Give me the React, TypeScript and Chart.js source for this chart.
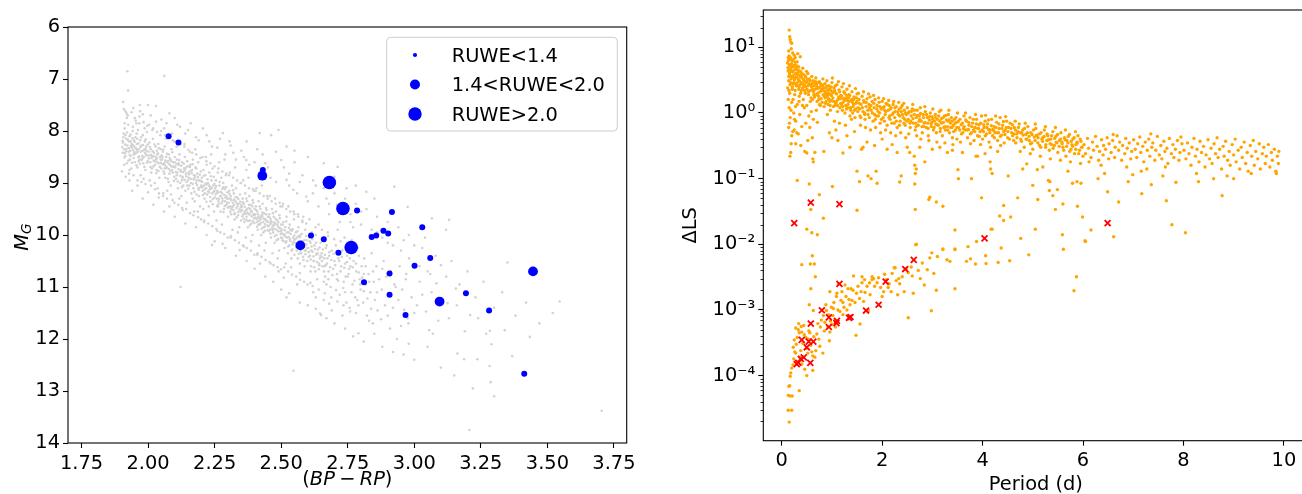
import React, { useEffect, useRef } from 'react';
import { Chart, registerables } from 'chart.js';

Chart.register(...registerables);

type P = [number, number];

const fieldStars: P[] = [
  [1.922,6.85],[2.061,6.94],[1.925,7.22],[1.906,7.44],[1.944,7.56],[1.969,7.5],[2.0,7.5],[2.03,7.52],[1.919,7.66],[1.912,7.85],[1.956,7.85],[2.069,7.85],[2.1,7.75],[2.15,7.98],[2.206,7.95],[2.281,8.04],[2.306,8.2],[2.419,8.04],[2.462,8.08],[2.49,7.98],[2.37,8.2],[2.52,8.3],[2.55,8.38],[2.6,8.5],[2.5,8.56],[2.369,8.56],[2.369,8.75],[2.481,8.98],[2.52,8.94],[2.546,9.13],[2.594,9.26],[2.619,9.2],[2.712,8.69],[2.746,9.1],[2.82,9.17],[2.925,9.07],[2.975,9.46],[3.066,9.68],[3.131,9.71],[3.119,9.9],[2.66,8.62],[2.7,8.88],[2.78,9.05],[2.85,9.3],[2.68,9.6],[2.72,9.75],[2.77,9.85],[2.8,9.55],[2.86,9.95],[2.9,10.15],[2.95,10.3],[2.98,10.0],[3.03,10.25],[2.84,10.05],
  [1.905,8.22],[1.908,8.05],[1.91,8.35],[1.912,7.95],[1.915,8.48],[1.918,8.15],[1.92,8.62],[1.922,8.28],[1.925,7.88],[1.927,8.4],[1.93,8.1],[1.932,8.55],[1.935,8.2],[1.937,8.72],[1.94,8.32],[1.942,8.0],[1.945,8.45],[1.947,8.18],[1.95,8.6],[1.905,8.42],[1.91,8.65],[1.915,8.08],[1.92,7.75],[1.928,8.82],[1.933,8.38],[1.938,8.25],[1.943,7.92],[1.948,8.3],
  [1.952,8.12],[1.955,8.42],[1.958,8.25],[1.96,8.7],[1.962,7.98],[1.965,8.35],[1.968,8.55],[1.97,8.18],[1.972,8.85],[1.975,8.28],[1.978,8.48],[1.98,8.08],[1.982,8.62],[1.985,8.36],[1.988,8.2],[1.99,8.75],[1.992,8.45],[1.995,8.02],[1.998,8.58],[1.957,8.05],[1.963,8.5],[1.973,8.4],[1.983,8.92],[1.993,8.3],[1.967,7.85],[1.987,7.95],
  [2.002,8.4],[2.005,8.22],[2.008,8.6],[2.01,8.35],[2.012,8.8],[2.015,8.5],[2.018,8.15],[2.02,8.68],[2.022,8.42],[2.025,9.0],[2.028,8.3],[2.03,8.55],[2.032,8.75],[2.035,8.45],[2.038,8.25],[2.04,8.62],[2.042,8.9],[2.045,8.5],[2.048,8.35],[2.05,8.72],[2.006,8.95],[2.016,7.98],[2.026,8.65],[2.036,9.1],[2.046,8.08],[2.013,8.52],[2.033,8.38],
  [2.052,8.55],[2.055,8.4],[2.058,8.78],[2.06,8.62],[2.062,8.3],[2.065,8.9],[2.068,8.5],[2.07,8.7],[2.072,9.15],[2.075,8.58],[2.078,8.45],[2.08,8.82],[2.082,8.65],[2.085,9.05],[2.088,8.35],[2.09,8.75],[2.092,9.33],[2.095,8.6],[2.098,8.88],[2.1,8.5],[2.057,9.2],[2.067,8.15],[2.077,8.98],[2.087,8.68],[2.097,8.2],[2.063,8.72],
  [2.102,8.7],[2.105,8.92],[2.108,8.55],[2.11,8.8],[2.112,9.1],[2.115,8.65],[2.118,8.45],[2.12,9.0],[2.122,8.75],[2.125,9.25],[2.128,8.6],[2.13,8.88],[2.132,9.05],[2.135,8.72],[2.138,8.5],[2.14,9.15],[2.142,8.82],[2.145,9.38],[2.148,8.68],[2.15,8.95],[2.107,8.3],[2.117,9.3],[2.127,8.95],[2.137,8.25],[2.147,9.05],[2.122,11.0],
  [2.152,8.8],[2.155,9.05],[2.158,8.65],[2.16,8.92],[2.162,9.2],[2.165,8.75],[2.168,8.55],[2.17,9.1],[2.172,8.85],[2.175,9.35],[2.178,8.7],[2.18,9.0],[2.182,9.22],[2.185,8.82],[2.188,8.6],[2.19,9.13],[2.192,8.95],[2.195,9.45],[2.198,8.78],[2.2,9.05],[2.157,8.4],[2.167,9.3],[2.177,8.35],[2.187,9.55],
  [2.202,8.9],[2.205,9.15],[2.208,8.75],[2.21,9.05],[2.212,9.3],[2.215,8.85],[2.218,9.1],[2.22,8.65],[2.222,9.22],[2.225,9.0],[2.228,9.45],[2.23,8.8],[2.232,9.12],[2.235,9.35],[2.238,8.95],[2.24,9.2],[2.242,8.72],[2.245,9.05],[2.248,9.55],[2.25,9.28],[2.207,9.5],[2.217,8.5],[2.227,9.62],[2.237,8.45],[2.247,8.88],[2.24,10.19],
  [2.252,9.1],[2.255,8.95],[2.258,9.3],[2.26,9.15],[2.262,8.8],[2.265,9.4],[2.268,9.05],[2.27,9.25],[2.272,9.55],[2.275,8.9],[2.278,9.2],[2.28,9.35],[2.282,9.0],[2.285,9.5],[2.288,9.12],[2.29,9.28],[2.292,8.85],[2.295,9.42],[2.298,9.18],[2.3,9.65],[2.257,9.72],[2.267,8.6],[2.277,9.8],[2.287,8.55],[2.297,9.38],[2.28,10.17],[2.263,9.45],[2.283,9.08],
  [2.302,9.3],[2.305,9.15],[2.308,9.45],[2.31,9.25],[2.312,9.6],[2.315,9.05],[2.318,9.38],[2.32,9.52],[2.322,9.2],[2.325,9.7],[2.328,9.35],[2.33,9.1],[2.332,9.48],[2.335,9.28],[2.338,9.62],[2.34,9.4],[2.342,9.85],[2.345,9.22],[2.348,9.55],[2.35,9.42],[2.307,8.8],[2.317,9.9],[2.327,8.7],[2.337,9.95],[2.347,9.0],[2.344,10.29],[2.323,9.32],[2.313,9.5],
  [2.352,9.45],[2.355,9.3],[2.358,9.6],[2.36,9.4],[2.362,9.75],[2.365,9.2],[2.368,9.52],[2.37,9.65],[2.372,9.35],[2.375,9.85],[2.378,9.48],[2.38,9.25],[2.382,9.6],[2.385,9.42],[2.388,9.78],[2.39,9.55],[2.392,10.0],[2.395,9.38],[2.398,9.68],[2.4,9.5],[2.357,8.95],[2.367,10.05],[2.377,8.9],[2.387,10.12],[2.397,9.15],[2.362,9.58],[2.382,9.72],[2.372,9.5],[2.392,9.45],
  [2.402,9.6],[2.405,9.45],[2.408,9.75],[2.41,9.55],[2.412,9.9],[2.415,9.35],[2.418,9.68],[2.42,9.8],[2.422,9.5],[2.425,10.0],[2.428,9.62],[2.43,9.4],[2.432,9.75],[2.435,9.58],[2.438,9.92],[2.44,9.7],[2.442,10.15],[2.445,9.52],[2.448,9.82],[2.45,9.65],[2.407,9.1],[2.417,10.2],[2.42,10.55],[2.427,9.05],[2.437,10.3],[2.447,9.25],[2.413,9.65],[2.433,9.85],[2.423,9.7],[2.443,9.6],
  [2.452,9.75],[2.455,9.6],[2.458,9.9],[2.46,9.7],[2.462,10.05],[2.465,9.5],[2.468,9.82],[2.47,9.95],[2.472,9.65],[2.475,10.15],[2.478,9.78],[2.48,9.55],[2.482,9.9],[2.485,9.72],[2.488,10.08],[2.49,9.85],[2.492,10.3],[2.495,9.68],[2.498,9.98],[2.5,9.8],[2.457,9.25],[2.467,10.35],[2.477,9.3],[2.487,10.45],[2.49,10.7],[2.497,9.45],[2.473,9.88],[2.463,9.76],
  [2.502,9.9],[2.505,10.1],[2.508,9.75],[2.51,10.0],[2.512,10.25],[2.515,9.85],[2.518,10.15],[2.52,9.65],[2.522,10.05],[2.525,10.35],[2.528,9.95],[2.53,10.2],[2.532,9.8],[2.535,10.12],[2.538,10.45],[2.54,9.92],[2.542,10.28],[2.545,10.05],[2.548,9.7],[2.55,10.38],[2.507,9.4],[2.517,10.55],[2.52,11.2],[2.527,9.45],[2.537,10.62],[2.547,9.55],[2.546,12.61],
  [2.552,10.15],[2.555,9.95],[2.558,10.3],[2.56,10.05],[2.562,10.45],[2.565,9.85],[2.568,10.22],[2.57,10.55],[2.572,10.0],[2.575,10.35],[2.578,10.12],[2.58,9.75],[2.582,10.42],[2.585,10.2],[2.588,10.6],[2.59,9.9],[2.592,10.3],[2.595,10.1],[2.57,10.73],[2.598,10.5],[2.563,9.6],[2.583,9.65],
  [2.602,10.25],[2.605,10.05],[2.608,10.4],[2.61,10.15],[2.612,10.6],[2.615,9.95],[2.618,10.32],[2.62,11.1],[2.622,10.5],[2.625,10.2],[2.628,10.7],[2.63,10.0],[2.632,10.38],[2.635,10.85],[2.638,10.28],[2.64,9.8],[2.642,10.55],[2.645,10.45],[2.646,11.51],[2.65,11.54],[2.648,10.15],
  [2.652,10.35],[2.655,10.6],[2.658,10.1],[2.66,11.25],[2.662,10.45],[2.665,10.8],[2.668,10.25],[2.67,10.95],[2.672,10.55],[2.675,9.95],[2.678,10.7],[2.68,10.4],[2.685,11.0],[2.69,10.3],[2.695,10.65],[2.7,10.5],[2.706,11.06],
  [2.705,10.2],[2.71,10.75],[2.715,10.45],[2.72,11.15],[2.725,10.6],[2.73,10.3],[2.735,10.9],[2.74,10.55],[2.745,11.3],[2.748,10.4],[2.712,9.9],[2.738,10.05],[2.75,10.8],
  [2.755,10.65],[2.759,11.47],[2.762,10.35],[2.768,10.95],[2.772,10.5],[2.778,11.2],[2.782,10.7],[2.788,10.25],[2.79,11.89],[2.795,10.85],[2.798,11.05],[2.765,10.1],
  [2.802,10.6],[2.808,11.3],[2.812,10.45],[2.818,10.95],[2.822,11.55],[2.828,10.75],[2.835,11.1],[2.84,10.35],[2.844,11.7],[2.848,10.9],
  [2.852,11.25],[2.858,10.6],[2.862,11.45],[2.868,10.85],[2.875,11.62],[2.878,11.05],[2.885,10.5],[2.89,11.35],[2.895,10.8],
  [2.905,11.15],[2.909,11.8],[2.912,10.7],[2.92,11.4],[2.925,10.95],[2.935,12.0],[2.94,11.25],[2.945,10.6],
  [2.955,11.05],[2.962,11.44],[2.968,10.85],[2.975,11.6],[2.978,11.7],[2.979,12.09],[2.99,11.2],
  [3.01,11.35],[3.02,10.9],[3.044,11.47],[3.056,11.83],[3.065,11.1],[3.083,10.93],[3.1,10.58],[3.09,11.65],
  [3.125,11.31],[3.156,11.03],[3.162,12.28],[3.187,12.39],[3.21,11.54],[3.237,12.39],[3.27,11.9],[3.284,11.84],[3.283,12.52],[3.287,12.83],[3.34,11.83],[3.35,10.53],
  [3.368,12.33],[3.434,11.96],[3.546,11.28],[3.704,13.38],[3.207,13.75],
  [1.903,8.31],[1.907,8.12],[1.911,8.51],[1.914,8.26],[1.917,8.39],[1.921,8.03],[1.924,8.17],[1.926,8.57],[1.929,8.33],[1.931,8.46],[1.934,8.07],[1.936,8.29],[1.939,8.61],[1.941,8.14],[1.944,8.37],[1.946,8.52],[1.949,8.21],[1.951,8.44],[1.954,8.33],[1.956,8.66],[1.959,8.15],[1.961,8.4],[1.964,8.24],[1.966,8.49],[1.969,8.63],[1.971,8.31],[1.974,8.12],[1.976,8.56],[1.979,8.38],[1.981,8.27],[1.984,8.5],[1.986,8.69],[1.989,8.34],[1.991,8.16],[1.994,8.47],[1.996,8.61],[1.999,8.26],
  [2.003,8.53],[2.007,8.31],[2.011,8.46],[2.014,8.72],[2.017,8.39],[2.021,8.57],[2.024,8.26],[2.027,8.49],[2.031,8.81],[2.034,8.6],[2.037,8.43],[2.041,8.33],[2.044,8.69],[2.047,8.55],[2.051,8.47],[2.054,8.64],[2.057,8.36],[2.061,8.82],[2.064,8.57],[2.067,8.71],[2.071,8.44],[2.074,8.92],[2.077,8.63],[2.081,8.52],[2.084,8.77],[2.087,8.58],[2.091,8.41],[2.094,8.69],[2.097,8.96],[2.101,8.6],
  [2.104,8.79],[2.107,8.64],[2.111,8.97],[2.114,8.73],[2.117,8.56],[2.121,8.86],[2.124,8.67],[2.127,9.08],[2.131,8.79],[2.134,8.63],[2.137,8.94],[2.141,8.71],[2.144,8.87],[2.147,8.58],[2.151,9.11],[2.154,8.83],[2.157,8.69],[2.161,9.0],[2.164,8.81],[2.167,8.64],[2.171,8.93],[2.174,9.17],[2.177,8.86],[2.181,8.72],[2.184,9.04],[2.187,8.89],[2.191,9.25],[2.194,8.84],[2.197,9.08],
  [2.203,8.98],[2.206,9.23],[2.209,8.86],[2.213,9.12],[2.216,9.01],[2.219,9.36],[2.223,8.93],[2.226,9.16],[2.229,9.05],[2.233,9.27],[2.236,8.87],[2.239,9.1],[2.243,9.41],[2.246,9.17],[2.249,9.02],
  [2.253,9.22],[2.256,9.06],[2.259,9.44],[2.263,9.18],[2.266,9.31],[2.269,8.98],[2.273,9.26],[2.276,9.39],[2.279,9.11],[2.283,9.56],[2.286,9.23],[2.289,9.35],[2.293,9.08],[2.296,9.3],[2.299,9.47],
  [2.303,9.38],[2.306,9.21],[2.309,9.55],[2.313,9.33],[2.316,9.46],[2.319,9.14],[2.323,9.42],[2.326,9.58],[2.329,9.27],[2.333,9.66],[2.336,9.44],[2.339,9.31],[2.343,9.51],[2.346,9.36],[2.349,9.72],
  [2.353,9.52],[2.356,9.37],[2.359,9.69],[2.363,9.46],[2.366,9.59],[2.369,9.3],[2.373,9.57],[2.376,9.73],[2.379,9.42],[2.383,9.81],[2.386,9.55],[2.389,9.64],[2.393,9.33],[2.396,9.6],[2.399,9.77],
  [2.403,9.67],[2.406,9.52],[2.409,9.84],[2.413,9.6],[2.416,9.73],[2.419,9.45],[2.423,9.64],[2.426,9.88],[2.429,9.57],[2.433,9.95],[2.436,9.69],[2.439,9.79],[2.443,9.48],[2.446,9.74],[2.449,9.91],
  [2.453,9.83],[2.456,9.66],[2.459,9.97],[2.463,9.74],[2.466,9.87],[2.469,9.58],[2.473,9.76],[2.476,10.02],[2.479,9.69],[2.483,10.1],[2.486,9.81],[2.489,9.93],[2.493,9.62],[2.496,9.87],[2.499,10.05],
  [2.503,9.97],[2.506,9.8],[2.509,10.12],[2.513,9.91],[2.516,10.03],[2.519,9.74],[2.523,9.95],[2.526,10.22],[2.529,9.86],[2.533,10.08],[2.536,9.98],[2.539,10.3],[2.543,9.89],[2.546,10.14],[2.549,10.01],
  [2.553,10.08],[2.557,10.24],[2.561,9.93],[2.564,10.16],[2.567,10.36],[2.571,10.04],[2.574,10.27],[2.577,9.98],[2.581,10.19],[2.584,10.48],[2.587,10.1],[2.591,10.37],[2.594,10.02],[2.597,10.25],
  [2.603,10.33],[2.607,10.12],[2.611,10.47],[2.614,10.22],[2.617,10.08],[2.621,10.41],[2.624,10.62],[2.627,10.27],[2.631,10.15],[2.634,10.52],[2.637,10.35],[2.641,10.66],[2.644,10.24],[2.647,10.4],
  [2.653,10.5],[2.657,10.28],[2.661,10.7],[2.664,10.38],[2.667,10.58],[2.671,10.2],[2.674,10.45],[2.677,10.85],[2.681,10.33],[2.684,10.62],[2.688,10.48],[2.692,10.77],[2.697,10.36],
  [2.703,10.58],[2.708,10.32],[2.714,10.88],[2.718,10.5],[2.723,10.7],[2.728,10.42],[2.733,11.02],[2.737,10.63],[2.742,10.8],[2.747,10.52],
  [2.753,10.75],[2.758,10.45],[2.764,11.1],[2.769,10.62],[2.775,10.88],[2.781,10.55],[2.786,11.25],[2.792,10.72],[2.797,10.95],
  [2.804,10.82],[2.81,11.08],[2.817,10.6],[2.824,11.22],[2.831,10.9],[2.838,11.42],[2.845,10.7],
  [1.915,7.62],[1.95,7.75],[1.98,7.68],[2.03,7.82],[2.06,7.95],[2.09,8.05],[2.12,7.92],[2.18,8.12],[2.23,8.2],[2.26,8.32],[2.32,8.42],[2.35,8.38],[2.4,8.6],[2.43,8.45],[2.45,8.7],[2.53,8.82],[2.57,8.98],[2.63,9.05],[2.67,9.3],[2.71,9.42],[2.76,9.6],
  [1.93,8.95],[1.96,9.05],[2.0,9.18],[2.04,9.28],[2.08,9.45],[2.13,9.52],[2.17,9.62],[2.21,9.75],[2.26,9.92],[2.31,10.05],[2.36,10.22],[2.41,10.38],[2.46,10.55],[2.51,10.82],[2.56,10.95],[2.61,10.92],[2.68,11.32],[2.73,11.55],
  [1.902,8.78],[1.909,7.58],[1.916,8.88],[1.923,7.7],[1.93,8.75],[1.938,7.64],[1.945,8.85],[1.953,7.8],[1.96,8.95],[1.968,7.72],[1.975,8.98],[1.983,7.83],[1.99,9.02],[1.997,7.9],
  [2.004,7.88],[2.011,9.05],[2.019,7.95],[2.026,9.12],[2.034,8.02],[2.041,9.2],[2.049,8.0],[2.056,9.25],[2.064,8.08],[2.071,9.3],[2.079,8.12],[2.086,9.22],[2.093,8.18],[2.099,9.38],
  [2.106,8.2],[2.113,9.42],[2.121,8.26],[2.128,9.48],[2.136,8.3],[2.143,9.5],[2.151,8.36],[2.158,9.58],[2.166,8.42],[2.173,9.55],[2.181,8.45],[2.188,9.66],[2.196,8.52],[2.199,9.7],
  [2.204,8.5],[2.211,9.72],[2.219,8.58],[2.226,9.78],[2.234,8.62],[2.241,9.83],[2.249,8.68],[2.256,9.88],[2.264,8.72],[2.271,9.95],[2.279,8.78],[2.286,9.98],[2.294,8.82],[2.299,10.05],
  [2.304,8.85],[2.311,10.02],[2.319,8.9],[2.326,10.1],[2.334,8.95],[2.341,10.15],[2.349,9.0],[2.356,10.2],[2.364,9.05],[2.371,10.25],[2.379,9.1],[2.386,10.3],[2.394,9.12],[2.399,10.38],
  [2.404,9.15],[2.411,10.35],[2.419,9.2],[2.426,10.42],[2.434,9.25],[2.441,10.48],[2.449,9.3],[2.456,10.52],[2.464,9.35],[2.471,10.58],[2.479,9.4],[2.486,10.62],[2.494,9.38],[2.499,10.66],
  [2.504,9.45],[2.511,10.62],[2.519,9.5],[2.526,10.7],[2.534,9.55],[2.541,10.76],[2.549,9.6],[2.556,10.8],[2.564,9.65],[2.571,10.86],[2.579,9.72],[2.586,10.9],[2.594,9.78],[2.599,10.95],
  [2.606,9.7],[2.618,10.98],[2.629,9.85],[2.641,11.05],[2.653,9.9],[2.664,11.12],[2.676,10.02],[2.688,11.2],[2.699,10.08],[2.711,11.28],[2.723,10.12],[2.734,11.35],[2.746,10.25],[2.757,11.4],[2.769,10.3],[2.781,11.5],[2.792,10.4],
  [1.904,8.19],[1.913,8.43],[1.919,8.34],[1.928,8.2],[1.934,8.48],[1.943,8.27],[1.949,8.41],[1.958,8.36],[1.964,8.58],[1.973,8.29],[1.979,8.53],[1.988,8.42],[1.994,8.38],[2.003,8.47],[2.009,8.69],[2.018,8.48],[2.024,8.58],[2.033,8.52],[2.039,8.77],[2.048,8.61],[2.054,8.5],[2.063,8.66],[2.069,8.59],[2.078,8.73],[2.084,8.55],[2.093,8.8],[2.099,8.68],[2.108,8.85],[2.114,8.62],[2.123,8.78],[2.129,8.9],[2.138,8.76],[2.144,8.98],[2.153,8.9],[2.159,8.77],[2.168,9.02],[2.174,8.91],[2.183,8.95],[2.189,9.1],[2.198,8.96],
  [2.204,9.08],[2.213,9.2],[2.219,9.03],[2.228,9.18],[2.234,9.08],[2.243,9.31],[2.249,9.15],[2.258,9.19],[2.264,9.35],[2.273,9.17],[2.279,9.3],[2.288,9.44],[2.294,9.25],[2.303,9.47],[2.309,9.3],[2.318,9.45],[2.324,9.6],[2.333,9.39],[2.339,9.56],[2.348,9.47],[2.354,9.64],[2.363,9.55],[2.369,9.71],[2.378,9.6],[2.384,9.5],[2.393,9.73],[2.399,9.62],
  [2.408,9.69],[2.414,9.8],[2.423,9.77],[2.429,9.66],[2.438,9.84],[2.444,9.72],[2.453,9.92],[2.459,9.79],[2.468,9.9],[2.474,9.81],[2.483,10.0],[2.489,9.76],[2.498,9.93],[2.504,10.06],[2.513,9.98],[2.519,10.12],[2.528,10.04],[2.534,9.9],[2.543,10.18],[2.549,10.09],[2.558,10.2],[2.564,10.02],[2.573,10.3],[2.579,10.15],[2.588,10.3],[2.594,10.18],[2.603,10.42],[2.613,10.3],[2.623,10.5],[2.633,10.36],[2.643,10.58],[2.653,10.42],[2.663,10.6],
  [1.97,7.62],[2.01,7.7],[2.05,7.78],[2.08,7.66],[2.11,7.88],[2.14,8.05],[2.16,7.85],[2.19,8.18],[2.22,8.08],[2.24,8.3],[2.27,8.15],[2.29,8.45],[2.31,8.28],[2.33,8.55],[2.36,8.5],[2.38,8.65],[2.41,8.35],[2.42,8.8],[2.44,8.62],[2.46,8.9],[2.48,8.4],[2.51,8.7],[2.53,9.05],[2.55,8.6],[2.56,9.2],[2.58,8.85],[2.6,9.35],[2.62,8.95],[2.64,9.45],[2.66,9.1],[2.68,9.4],[2.7,9.2],[2.72,9.55],[2.74,9.3],[2.76,9.75],[2.78,9.4],[2.8,9.8],[2.82,9.5],[2.84,9.9],[2.86,9.65],[2.88,10.05],[2.9,9.75],[2.92,10.2],[2.94,9.85],[2.96,10.1],[2.98,10.45],[3.0,10.2],[3.02,10.6],[3.04,10.05],[3.06,10.75],[3.08,10.4],[3.12,10.8],[3.14,10.5],[3.17,10.95],[3.2,10.7],[3.23,11.2],[3.26,10.9],[3.3,11.4],[3.33,11.1],[3.38,11.55],[3.42,11.3],[3.47,11.7],[3.52,11.5],
  [1.94,9.15],[1.98,9.3],[2.02,9.42],[2.06,9.55],[2.1,9.65],[2.14,9.78],[2.18,9.85],[2.22,10.0],[2.25,10.12],[2.29,10.25],[2.33,10.4],[2.37,10.5],[2.4,10.65],[2.44,10.8],[2.47,10.9],[2.5,11.05],[2.53,11.12],[2.57,11.3],[2.6,11.35],[2.63,11.42],[2.67,11.6],[2.7,11.7],[2.74,11.8],[2.77,11.95],[2.81,12.05],[2.85,11.9],[2.88,12.15],[2.92,12.25],[2.96,12.3],[3.0,12.4],[3.05,12.15],[3.1,12.55],[3.15,12.7],[3.22,12.95],[3.3,13.1],
  [2.61,10.7],[2.63,11.2],[2.66,10.9],[2.69,11.45],[2.71,10.85],[2.74,11.1],[2.76,10.6],[2.79,11.35],[2.81,10.75],[2.83,11.65],[2.86,11.1],[2.88,10.65],[2.9,11.55],[2.93,11.0],[2.95,11.75],[2.97,10.75],[3.0,11.5],[3.03,11.15],[3.05,10.7],[3.07,11.9],[3.1,11.25],[3.13,11.6],[3.16,11.35],[3.19,11.85],[3.24,11.6],[3.29,12.1]
];

const ruweLow: P[] = [
  [2.077,8.10],[2.114,8.22],[2.431,8.75],[2.785,9.53],[2.916,9.56],[3.030,9.85],[2.612,10.01],[2.660,10.08],
  [2.715,10.34],[2.840,10.04],[2.857,10.01],[2.884,9.92],[2.902,9.97],[3.060,10.44],[3.001,10.59],[2.907,10.74],
  [2.811,10.91],[2.907,11.15],[3.194,11.12],[3.281,11.45],[2.967,11.54],[3.413,12.67]
];
const ruweMid: P[] = [[2.429,8.86],[2.572,10.20],[3.095,11.28],[3.446,10.70]];
const ruweHigh: P[] = [[2.681,8.99],[2.732,9.49],[2.763,10.24]];

const ruweLabels = ['RUWE<1.4', '1.4<RUWE<2.0', 'RUWE>2.0'];
const colourTicks = [1.75, 2.0, 2.25, 2.5, 2.75, 3.0, 3.25, 3.5, 3.75];
const magTicks = [6, 7, 8, 9, 10, 11, 12, 13, 14];

const allSources: P[] = [
  [0.15,18.3],[0.16,14.5],[0.17,13.2],[0.18,12.0],[0.2,11.5],[0.19,9.5],[0.14,8.8],[0.22,8.2],[0.25,7.6],[0.13,7.0],[0.17,6.6],[0.21,6.2],[0.27,5.9],[0.15,5.5],[0.24,5.2],[0.19,4.9],[0.3,4.6],[0.13,4.4],[0.22,4.2],[0.28,4.0],[0.16,3.8],[0.2,3.6],[0.25,3.4],[0.33,3.3],[0.14,3.1],[0.18,2.9],[0.23,2.75],[0.29,2.6],[0.12,2.4],[0.21,2.3],[0.35,2.5],[0.16,2.0],[0.26,1.9],[0.13,1.6],[0.2,1.45],[0.31,1.35],[0.15,1.2],[0.24,1.0],[0.17,0.85],[0.14,0.6],[0.22,0.52],[0.19,0.34],[0.165,0.22],[0.18,0.25],[0.2,0.45],
  [0.27,7.0],[0.31,6.0],[0.34,5.0],[0.36,4.3],[0.38,3.6],[0.4,3.9],[0.42,4.8],[0.44,3.2],[0.32,8.0],[0.37,7.2],[0.41,2.8],[0.46,2.6],[0.48,3.5],[0.5,3.0],[0.35,1.8],[0.39,2.2],[0.43,1.6],[0.47,2.0],[0.52,4.0],[0.55,3.3],[0.58,2.7],[0.6,3.6],[0.62,2.3],[0.53,2.1],[0.57,1.5],[0.45,1.2],[0.36,0.95],[0.28,0.75],[0.4,0.62],[0.25,0.55],[0.33,0.48],[0.5,1.3],[0.54,0.9],[0.59,1.05],[0.64,1.9],[0.66,2.9],[0.68,3.4],[0.7,2.5],[0.72,2.0],[0.75,3.0],[0.78,2.6],[0.8,2.2],[0.82,3.3],[0.85,1.8],[0.74,1.6],[0.77,1.3],[0.69,1.1],[0.63,0.8],[0.71,0.72],[0.56,0.6],[0.48,0.7],[0.61,0.42],[0.52,0.38],[0.46,0.26],[0.38,0.32],[0.3,0.5],[0.66,0.25],[0.62,0.2],[0.63,0.18],[0.5,0.245],[0.28,0.34],
  [0.115,5.8],[0.125,4.9],[0.135,6.3],[0.142,3.6],[0.148,7.4],[0.155,4.1],[0.162,5.3],[0.168,2.7],[0.175,4.6],[0.182,6.9],[0.188,3.3],[0.195,5.6],[0.205,4.3],[0.212,2.5],[0.218,5.1],[0.228,3.7],[0.235,6.5],[0.242,2.9],[0.248,4.5],[0.255,3.2],[0.262,5.4],[0.268,2.2],[0.275,3.9],[0.282,4.8],[0.288,2.8],[0.295,3.5],[0.305,5.2],[0.312,2.6],[0.318,4.1],[0.325,3.0],[0.335,3.8],[0.342,2.3],[0.348,4.4],[0.355,3.1],[0.365,2.7],[0.372,3.6],[0.378,2.0],[0.385,4.2],[0.395,2.9],[0.405,3.4],[0.415,2.4],[0.425,3.9],[0.435,2.7],[0.445,3.1],[0.455,2.2],[0.465,3.7],[0.475,2.5],[0.485,2.9],[0.495,4.3],[0.505,2.3],[0.515,3.2],[0.525,2.6],[0.535,1.9],[0.545,2.8],[0.565,3.1],[0.575,2.2],[0.585,1.7],[0.595,2.5],[0.145,2.2],[0.225,1.6],[0.275,1.25],[0.345,1.5],[0.415,1.3],[0.185,1.1],[0.255,0.8],[0.155,0.7],
  [0.605,2.8],[0.615,1.6],[0.625,3.1],[0.635,2.1],[0.645,2.6],[0.655,1.75],[0.665,2.3],[0.675,3.0],[0.685,1.9],[0.695,2.7],[0.705,1.5],[0.715,2.35],[0.725,2.9],[0.735,1.8],[0.745,2.45],[0.755,1.35],[0.765,2.1],[0.775,2.8],[0.785,1.65],[0.795,2.3],[0.805,1.45],[0.815,2.65],[0.825,1.9],[0.835,2.4],[0.845,1.25],[0.855,2.15],[0.865,1.7],[0.875,2.0],[0.885,1.5],[0.895,2.55],[0.905,1.8],[0.915,2.2],[0.925,1.35],[0.935,2.0],[0.945,1.6],[0.955,2.35],[0.965,1.3],[0.975,1.9],[0.985,2.5],[0.995,1.55],[1.015,2.05],[1.035,1.5],[1.055,2.2],[1.075,1.4],[1.095,1.95],[1.115,1.3],[1.135,1.75],[1.155,2.1],[1.175,1.4],[1.195,1.8],[1.215,1.25],[1.235,1.65],[1.255,2.0],[1.275,1.3],[1.295,1.85],[1.315,1.2],[1.335,1.5],[1.355,1.85],[1.375,1.1],[1.395,1.6],[1.415,1.0],[1.435,1.35],[1.455,1.7],[1.475,1.15],[1.495,1.5],
  [0.86,2.8],[0.88,2.4],[0.9,3.1],[0.92,1.9],[0.94,2.6],[0.96,1.5],[0.98,2.2],[1.0,2.9],[1.02,1.7],[1.04,2.4],[1.06,1.3],[1.08,2.0],[1.1,2.7],[1.12,1.6],[1.14,2.25],[1.16,1.2],[1.18,1.85],[1.2,2.5],[1.22,1.45],[1.24,2.1],[1.26,1.0],[1.28,1.7],[1.3,2.3],[1.32,1.35],[1.34,1.9],[1.36,0.9],[1.38,1.55],[1.4,2.1],[1.42,1.25],[1.44,1.75],[1.46,0.85],[1.48,1.4],[1.5,1.95],[0.87,1.4],[0.91,0.95],[0.97,1.1],[1.01,3.4],[1.05,0.75],[1.09,1.5],[1.13,3.0],[1.15,0.7],[1.19,1.35],[1.23,2.8],[1.27,0.65],[1.31,1.55],[1.35,2.6],[1.39,0.8],[1.43,1.6],[1.47,2.35],[0.93,1.65],[0.99,1.85],[1.03,1.25],[1.07,2.6],[1.11,1.05],[1.17,1.65],[1.21,1.1],[1.25,1.55],[1.29,1.15],[1.33,1.7],[1.37,1.2],[1.41,1.45],[1.45,1.1],[1.49,1.7],
  [0.84,0.26],[0.95,0.5],[1.0,0.42],[1.08,0.55],[1.22,0.245],[1.36,0.3],[1.12,0.38],[1.3,0.45],[1.45,0.52],[1.59,0.28],
  [1.52,1.2],[1.54,1.6],[1.56,0.9],[1.58,1.35],[1.6,1.8],[1.62,1.05],[1.64,1.45],[1.66,0.8],[1.68,1.25],[1.7,1.65],[1.72,0.95],[1.74,1.35],[1.76,1.75],[1.78,1.1],[1.8,1.5],[1.82,0.75],[1.84,1.2],[1.86,1.6],[1.88,0.9],[1.9,1.3],[1.92,1.05],[1.94,1.45],[1.96,0.7],[1.98,1.15],[2.0,1.5],[2.02,0.85],[2.04,1.25],[2.06,0.95],[2.08,1.4],[2.1,0.65],[2.12,1.1],[2.14,1.3],[2.16,0.8],[2.18,1.2],[2.2,0.95],[2.22,1.35],[2.24,0.7],[2.26,1.05],[2.28,1.25],[2.3,0.6],[2.32,0.95],[2.34,1.15],[2.36,0.75],[2.38,1.05],[2.4,1.3],[2.42,0.85],[2.44,1.1],[2.46,0.65],[2.48,0.95],[2.5,1.2],[1.53,2.0],[1.57,0.65],[1.63,2.1],[1.67,0.6],[1.73,1.95],[1.77,0.55],[1.83,1.85],[1.87,0.6],[1.93,1.7],[1.97,0.5],[2.03,1.65],[2.07,0.55],[2.13,1.55],[2.17,0.5],[2.23,1.5],[2.27,0.45],[2.33,1.45],[2.37,0.5],[2.43,1.4],[2.47,0.42],[1.55,1.15],[1.65,1.0],[1.75,1.2],[1.85,0.95],[1.95,1.0],[2.05,1.1],[2.15,0.9],[2.25,0.85],[2.35,0.9],[2.45,0.8],
  [1.515,1.05],[1.545,1.4],[1.575,0.85],[1.605,1.2],[1.635,1.55],[1.655,0.95],[1.685,1.45],[1.715,1.1],[1.745,0.85],[1.775,1.3],[1.805,1.0],[1.835,1.4],[1.865,0.8],[1.895,1.15],[1.925,0.9],[1.955,1.25],[1.985,0.8],[2.015,1.2],[2.045,0.75],[2.075,1.05],[2.105,1.35],[2.135,0.85],[2.165,1.15],[2.195,0.7],[2.225,1.0],[2.255,1.2],[2.285,0.75],[2.315,1.05],[2.345,0.65],[2.375,1.2],[2.405,0.95],[2.435,0.7],[2.465,1.0],[2.495,0.75],
  [1.72,0.11],[1.78,0.1],[1.88,0.13],[1.9,0.085],[1.55,0.09],[1.5,0.13],[1.62,0.3],[1.7,0.36],[1.85,0.32],[2.0,0.4],[2.2,0.33],[2.35,0.089],[2.38,0.11],[2.1,0.28],[2.3,0.25],[2.5,0.3],
  [2.52,0.8],[2.54,1.05],[2.56,0.6],[2.58,0.9],[2.6,1.15],[2.62,0.7],[2.64,0.95],[2.66,0.55],[2.68,0.85],[2.7,1.1],[2.72,0.65],[2.74,0.9],[2.76,1.2],[2.78,0.75],[2.8,0.5],[2.82,0.95],[2.84,0.7],[2.86,1.05],[2.88,0.6],[2.9,0.85],[2.92,0.45],[2.94,0.78],[2.96,1.0],[2.98,0.62],[3.0,0.88],[3.02,0.55],[3.04,0.75],[3.06,0.95],[3.08,0.5],[3.1,0.8],[3.12,0.65],[3.14,1.05],[3.16,0.58],[3.18,0.82],[3.2,0.45],[3.22,0.72],[3.24,0.9],[3.26,0.55],[3.28,0.78],[3.3,0.62],[3.32,0.95],[3.34,0.5],[3.36,0.7],[3.38,0.85],[3.4,0.42],[3.42,0.65],[3.44,0.8],[3.46,0.55],[3.48,0.72],[3.5,1.0],[2.53,0.48],[2.61,1.35],[2.69,0.45],[2.77,0.4],[2.85,1.25],[2.93,0.38],[3.01,1.15],[3.09,0.36],[3.17,1.1],[3.25,0.35],[3.33,1.1],[3.41,0.33],[3.49,0.4],[2.57,0.75],[2.67,0.7],[2.75,0.8],[2.83,0.62],[2.91,0.7],[2.99,0.72],[3.07,0.68],[3.15,0.75],[3.23,0.6],[3.31,0.75],[3.39,0.6],[3.47,0.85],
  [2.525,1.0],[2.555,0.7],[2.585,1.05],[2.615,0.82],[2.645,1.1],[2.675,0.62],[2.705,0.92],[2.735,0.75],[2.765,0.98],[2.795,0.62],[2.825,0.85],[2.855,0.72],[2.885,0.95],[2.915,0.58],[2.945,0.88],[2.975,0.68],[3.005,0.8],[3.035,0.6],[3.065,0.85],[3.095,0.66],[3.125,0.9],[3.155,0.52],[3.185,0.7],[3.215,0.85],[3.245,0.62],[3.275,0.92],[3.305,0.55],[3.335,0.78],[3.365,0.6],[3.395,0.75],[3.425,0.52],[3.455,0.7],[3.485,0.6],
  [2.64,0.22],[2.65,0.16],[2.85,0.18],[2.65,0.083],[2.66,0.12],[2.68,0.14],[2.93,0.048],[2.95,0.052],[3.08,0.044],[3.21,0.038],[2.66,0.034],[2.67,0.0098],[3.21,0.0085],[3.45,0.0085],[3.45,0.0165],[3.51,0.137],[3.52,0.1],[2.75,0.3],[3.0,0.28],[3.3,0.25],[2.55,0.25],[3.15,0.3],[3.4,0.27],
  [3.52,0.6],[3.55,0.8],[3.58,0.48],[3.6,0.7],[3.63,0.9],[3.65,0.55],[3.68,0.75],[3.7,0.42],[3.73,0.65],[3.75,0.85],[3.78,0.5],[3.8,0.7],[3.83,0.38],[3.85,0.6],[3.88,0.8],[3.9,0.45],[3.93,0.66],[3.95,0.52],[3.98,0.9],[4.0,0.4],[4.03,0.6],[4.05,0.75],[4.08,0.48],[4.1,0.68],[4.13,0.36],[4.15,0.55],[4.18,0.8],[4.2,0.45],[4.23,0.62],[4.25,0.5],[4.28,0.72],[4.3,0.38],[4.33,0.58],[4.35,0.85],[4.38,0.46],[4.4,0.65],[4.43,0.35],[4.45,0.55],[4.48,0.75],[4.5,0.42],[3.56,0.36],[3.66,1.0],[3.76,0.34],[3.86,0.95],[3.96,0.33],[4.06,0.92],[4.16,0.3],[4.26,0.9],[4.36,0.32],[4.46,0.88],[3.62,0.58],[3.72,0.56],[3.82,0.55],[3.92,0.58],[4.02,0.52],[4.12,0.56],[4.22,0.54],[4.32,0.5],[4.42,0.52],[4.52,0.6],[4.55,0.7],[4.58,0.5],
  [3.515,0.74],[3.545,0.55],[3.575,0.66],[3.605,0.5],[3.635,0.62],[3.665,0.78],[3.695,0.55],[3.725,0.72],[3.755,0.48],[3.785,0.62],[3.815,0.8],[3.845,0.52],[3.875,0.68],[3.905,0.58],[3.935,0.44],[3.965,0.7],[3.995,0.55],[4.025,0.66],[4.055,0.45],[4.085,0.6],[4.115,0.78],[4.145,0.5],[4.175,0.64],[4.205,0.56],[4.235,0.42],[4.265,0.6],[4.295,0.5],[4.325,0.68],[4.355,0.44],[4.385,0.58],[4.415,0.74],[4.445,0.47],[4.475,0.6],[4.505,0.52],[4.535,0.4],[4.565,0.58],[4.595,0.66],[4.625,0.48],[4.655,0.55],[4.685,0.42],[4.715,0.6],[4.745,0.5],[4.775,0.37],[4.805,0.46],[4.835,0.58],[4.865,0.4],[4.895,0.5],[4.925,0.44],[4.955,0.34],[4.985,0.47],[5.015,0.55],[5.045,0.38],[5.075,0.46],[5.105,0.42],[5.135,0.32],[5.165,0.5],[5.195,0.37],[5.225,0.44],[5.255,0.3],[5.285,0.48],[5.315,0.39],[5.345,0.34],[5.375,0.45],[5.405,0.29],[5.435,0.41],[5.465,0.36],[5.495,0.47],[5.525,0.31],[5.555,0.4],[5.585,0.34],[5.615,0.27],[5.645,0.39],[5.675,0.31],[5.705,0.44],[5.735,0.26],[5.765,0.37],[5.795,0.31],[5.825,0.42],[5.855,0.28],[5.885,0.35],[5.915,0.24],[5.945,0.4],[5.975,0.3],
  [3.78,0.10],[3.98,0.051],[4.17,0.017],[4.15,0.18],[4.16,0.14],[3.87,0.22],[3.9,0.22],[4.19,0.12],[4.51,0.11],[4.34,0.027],[4.42,0.023],[4.56,0.026],[4.19,0.017],[4.42,0.039],[4.7,0.051],[3.6,0.25],[4.3,0.26],[4.05,0.24],
  [4.6,0.45],[4.63,0.6],[4.66,0.35],[4.7,0.52],[4.73,0.68],[4.76,0.4],[4.8,0.55],[4.83,0.3],[4.86,0.47],[4.9,0.62],[4.93,0.38],[4.96,0.5],[5.0,0.28],[5.03,0.43],[5.06,0.58],[5.1,0.35],[5.13,0.48],[5.16,0.3],[5.2,0.42],[5.23,0.55],[5.26,0.33],[5.3,0.45],[5.33,0.27],[5.36,0.4],[5.4,0.52],[5.43,0.32],[5.46,0.44],[5.5,0.25],[5.53,0.38],[5.56,0.5],[5.6,0.3],[5.63,0.42],[5.66,0.22],[5.7,0.35],[5.73,0.47],[5.76,0.28],[5.8,0.4],[5.83,0.24],[5.86,0.33],[5.9,0.45],[5.93,0.27],[5.96,0.37],[6.0,0.22],[4.65,0.75],[4.85,0.7],[5.05,0.68],[5.25,0.62],[5.45,0.6],[5.65,0.55],[5.85,0.52],[4.75,0.26],[4.95,0.24],[5.15,0.22],[5.35,0.2],[5.55,0.19],[5.75,0.18],[5.95,0.17],[4.68,0.48],[4.88,0.4],[5.08,0.45],[5.28,0.38],[5.48,0.35],[5.68,0.38],[5.88,0.36],[4.62,0.38],[4.78,0.5],[4.98,0.35],[5.18,0.4],[5.38,0.33],[5.58,0.36],[5.78,0.33],[5.98,0.3],
  [4.76,0.0123],[5.05,0.017],[5.59,0.014],[5.61,0.0084],[6.04,0.0113],[6.16,0.0165],[5.99,0.026],[5.89,0.038],[5.6,0.041],[5.45,0.034],[5.1,0.048],[5.4,0.055],[5.49,0.068],[5.33,0.066],[5.0,0.079],[5.31,0.094],[5.34,0.09],[5.79,0.085],[5.88,0.09],[5.96,0.085],[4.88,0.168],[5.09,0.137],[4.92,0.0069],[5.87,0.0032],[5.82,0.00196],[6.05,0.011],[5.2,0.15],[5.7,0.13],[4.8,0.14],
  [6.02,0.33],[6.05,0.24],[6.09,0.41],[6.11,0.29],[6.16,0.21],[6.19,0.36],[6.21,0.27],[6.25,0.44],[6.28,0.31],[6.31,0.19],[6.33,0.26],[6.37,0.39],[6.4,0.23],[6.41,0.32],[6.45,0.28],[6.48,0.42],[6.51,0.2],[6.52,0.34],[6.56,0.25],[6.59,0.38],[6.63,0.21],[6.64,0.3],[6.68,0.45],[6.71,0.27],[6.73,0.36],[6.77,0.19],[6.79,0.32],[6.83,0.24],[6.85,0.41],[6.88,0.29],[6.92,0.35],[6.95,0.2],[6.97,0.26],[7.01,0.39],[7.04,0.28],[7.07,0.21],[7.09,0.34],[7.13,0.43],[7.15,0.25],[7.19,0.31],[7.21,0.18],[7.24,0.36],[7.28,0.27],[7.31,0.4],[7.33,0.22],[7.37,0.3],[7.39,0.35],[7.43,0.19],[7.45,0.27],[7.48,0.44],[7.52,0.23],[7.55,0.32],[7.57,0.2],[7.61,0.37],[7.63,0.26],[7.67,0.29],[7.69,0.17],[7.72,0.41],[7.76,0.24],[7.79,0.33],[7.81,0.21],[7.84,0.28],[7.88,0.38],[7.91,0.19],[7.93,0.25],[7.97,0.34],[6.36,0.16],[6.87,0.15],[7.27,0.14],[7.64,0.15],[6.12,0.18],[6.6,0.47],[7.35,0.48],[7.95,0.43],
  [6.49,0.063],[6.71,0.044],[7.17,0.059],[7.66,0.046],[7.36,0.081],[7.85,0.088],[6.43,0.12],[6.99,0.115],[7.16,0.13],[7.59,0.11],[6.61,0.013],[7.77,0.0198],[6.3,0.1],[6.9,0.09],
  [8.01,0.27],[8.05,0.2],[8.08,0.35],[8.11,0.24],[8.15,0.16],[8.17,0.3],[8.21,0.41],[8.24,0.22],[8.27,0.28],[8.31,0.18],[8.33,0.37],[8.36,0.25],[8.4,0.31],[8.43,0.15],[8.45,0.23],[8.49,0.39],[8.52,0.2],[8.55,0.29],[8.57,0.17],[8.61,0.34],[8.64,0.24],[8.67,0.42],[8.69,0.21],[8.72,0.28],[8.76,0.14],[8.79,0.31],[8.81,0.22],[8.84,0.37],[8.88,0.19],[8.91,0.26],[8.93,0.16],[8.97,0.33],[9.0,0.23],[9.03,0.4],[9.05,0.18],[9.09,0.27],[9.12,0.14],[9.15,0.3],[9.17,0.21],[9.21,0.36],[9.24,0.17],[9.27,0.25],[9.29,0.13],[9.33,0.32],[9.36,0.22],[9.39,0.38],[9.41,0.16],[9.44,0.26],[9.48,0.2],[9.51,0.34],[9.53,0.14],[9.57,0.24],[9.6,0.3],[9.63,0.17],[9.65,0.22],[9.69,0.33],[9.72,0.15],[9.75,0.25],[9.77,0.19],[9.81,0.28],[9.84,0.13],[9.87,0.22],[9.89,0.17],[9.9,0.26],[8.26,0.12],[8.87,0.11],[9.35,0.12],[9.85,0.12],
  [8.77,0.055],[8.04,0.015],[8.3,0.09],[9.0,0.1],[8.6,0.1],
  [0.31,0.094],[0.55,0.083],[0.75,0.057],[0.58,0.034],[0.83,0.025],[0.5,0.017],[0.6,0.015],[0.71,0.014],[1.01,0.076],[1.5,0.033],
  [0.15,1.96e-5],[0.13,2.96e-5],[0.2,2.96e-5],[0.165,4.9e-5],[0.21,4.9e-5],[0.145,6.9e-5],[0.17,9.8e-5],[0.35,5.9e-5],[0.225,1.45e-4],[0.28,5.3e-4],[0.34,6.2e-4],[0.4,4.9e-3],[0.61,6.7e-3],[0.57,5.0e-3],[0.65,5.0e-3],[0.67,3.2e-3],[0.58,2.1e-3],[0.55,1.2e-3],[0.63,9.8e-4],[0.5,1.0e-4],[0.62,1.2e-4],[0.68,2.4e-4],[0.82,2.2e-4],[0.76,2.8e-4],[0.96,4.6e-4],[0.95,3.4e-4],[0.96,1.9e-3],[1.04,1.3e-3],[1.13,2.5e-3],[1.22,1.3e-3],[1.36,1.2e-3],[1.46,1.3e-3],[1.16,9.5e-4],[1.22,8.5e-4],[1.48,4.1e-4],[1.56,6.1e-4],[1.43,3.3e-3],[1.6,3.2e-3],[1.65,2.9e-3],[1.8,3.2e-3],[1.66,1.85e-3],[1.73,9.8e-4],[2.03,1.9e-3],[2.12,2.2e-3],[2.14,2.5e-3],[2.05,3.5e-3],[2.24,4.4e-3],[2.26,4.4e-3],[2.35,2.5e-3],[2.31,1.7e-3],[2.44,1.9e-3],[2.52,7.6e-4],[2.52,3.7e-3],[2.62,1.8e-3],[2.68,1.0e-2],[2.72,4.0e-3],[2.76,3.0e-3],[2.84,2.4e-3],[2.9,4.1e-3],[2.95,6.2e-3],[2.99,7.4e-3],[2.98,9.7e-4],[3.03,3.6e-3],[3.08,2.0e-3],[3.21,8.3e-3],[3.29,5.8e-3],[3.35,5.5e-3],[3.45,8.3e-3],[3.45,2.1e-3],[3.68,5.5e-3],[3.71,9.2e-3],[3.76,6.0e-3],[3.86,5.0e-3],[3.88,1.1e-2],[4.06,6.7e-3],[4.07,5.1e-3],[4.31,5.3e-3],[4.37,8.8e-3],[4.54,5.6e-3],
  [0.23,2.7e-4],[0.25,3.5e-4],[0.33,5e-4],[0.4,4.6e-4],[0.44,5.8e-4],[0.28,2.2e-4],[0.46,1.25e-4],[0.4,1.5e-4],[0.36,1.9e-4],[0.52,2.2e-4],[0.58,2.9e-4],[0.62,2.0e-4],[0.7,4.3e-4],[0.77,5.5e-4],[0.83,8.2e-4],[0.89,9.8e-4],[0.99,1.1e-3],[1.02,8.2e-4],[1.09,1.6e-3],[1.2,1.9e-3],[1.26,2.4e-3],[1.32,2.1e-3],[1.38,2.1e-3],[1.49,1.8e-3],[1.55,1.5e-3],[1.6,2.6e-3],[1.8,2.9e-3],[1.85,2.3e-3],[1.9,2.6e-3],[1.93,3.1e-3],[2.12,2.5e-3],[2.18,1.9e-3],[0.86,6.5e-4],[0.92,5.5e-4],[1.0,6.0e-4],[1.06,7.0e-4],[1.12,1.0e-3],[1.3,1.0e-3],[1.4,1.4e-3],[1.7,2.3e-3],[1.76,1.7e-3],[2.0,1.6e-3],[2.28,2.8e-3],[2.4,3.2e-3],[2.58,4.5e-3],[0.48,3.8e-4],[0.54,4.8e-4],[0.38,2.4e-4],[0.3,1.6e-4],
  [0.13,5e-5],[0.16,7e-5],[0.18,1.1e-4],[0.2,1.3e-4],[0.24,1.8e-4],[0.26,2.3e-4],[0.29,3e-4],[0.31,3.8e-4],[0.35,4.5e-4],[0.39,5.6e-4],[0.42,3.1e-4],[0.45,4.2e-4],[0.49,2.6e-4],[0.53,3.6e-4],[0.56,4.5e-4],[0.6,2.3e-4],[0.64,3.9e-4],[0.66,1.9e-4],[0.72,6.2e-4],[0.74,3.6e-4],[0.79,7e-4],[0.85,4.8e-4],[0.88,1.2e-3],[0.93,8.5e-4],[0.97,6.8e-4],[1.03,1.05e-3],[1.07,5.5e-4],[1.1,1.8e-3],[1.18,1.4e-3],[1.24,1.1e-3],[1.28,1.6e-3],[1.34,1.45e-3],[1.42,2.0e-3],[1.52,2.3e-3],[1.58,1.9e-3],[1.63,1.35e-3],[1.75,2.6e-3],[1.83,3.0e-3],[1.97,2.2e-3],[2.08,2.9e-3],[2.2,3.6e-3],[2.33,3.0e-3],[2.48,4.2e-3],[2.6,3.3e-3],[2.8,5.2e-3],[3.1,6.5e-3]
];

const flaggedSources: P[] = [
  [0.25,0.021],[0.58,0.043],[1.15,0.041],[4.04,0.0123],[6.49,0.021],[2.63,0.0058],[2.46,0.0042],[2.07,0.0027],
  [1.15,0.0025],[1.93,0.0012],[1.68,0.00098],[0.8,0.00099],[0.94,0.00077],[1.34,0.00076],[1.37,0.00078],[1.09,0.00063],
  [1.1,0.00068],[0.94,0.00055],[0.58,0.00062],[0.4,0.00035],[0.5,0.00027],[0.54,0.00033],[0.63,0.00033],[0.44,0.00019],
  [0.38,0.00018],[0.33,0.000157],[0.3,0.00015],[0.57,0.000156]
];

const periodTicks = [0, 2, 4, 6, 8, 10];
const lsDecades = [1e-4, 1e-3, 1e-2, 1e-1, 1, 10];

const FAMILY = 'DejaVu Sans';
const FS = 19.4;
const tickFont = { family: FAMILY, size: FS };
const toXY = (a: P[]) => a.map(([x, y]) => ({ x, y }));

const SUP: Record<string, string> = { '-': '\u207B', '0': '\u2070', '1': '\u00B9', '2': '\u00B2', '3': '\u00B3', '4': '\u2074', '5': '\u2075', '6': '\u2076', '7': '\u2077', '8': '\u2078', '9': '\u2079' };
const decadeLabel = (v: number) => '10' + String(Math.round(Math.log10(v))).split('').map((c) => SUP[c]).join('');

const gridOpts = { display: true, drawOnChartArea: false, drawTicks: true, tickLength: 5, tickColor: '#000', tickWidth: 1.1 };

const framePlugin = {
  id: 'frame',
  afterDatasetsDraw(chart: any) {
    const { ctx, chartArea: a } = chart;
    ctx.save();
    ctx.strokeStyle = '#000';
    ctx.lineWidth = 1.1;
    ctx.strokeRect(a.left, a.top, a.right - a.left, a.bottom - a.top);
    ctx.restore();
  },
};

const leftDecor = {
  id: 'leftDecor',
  afterDraw(chart: any) {
    const { ctx, chartArea: a } = chart;
    ctx.save();
    const bx = 386.7, by = 37.3, bw = 230.6, bh = 93.7, r = 4;
    ctx.beginPath();
    ctx.moveTo(bx + r, by);
    ctx.arcTo(bx + bw, by, bx + bw, by + bh, r);
    ctx.arcTo(bx + bw, by + bh, bx, by + bh, r);
    ctx.arcTo(bx, by + bh, bx, by, r);
    ctx.arcTo(bx, by, bx + bw, by, r);
    ctx.closePath();
    ctx.fillStyle = 'rgba(255,255,255,0.8)';
    ctx.fill();
    ctx.strokeStyle = '#cccccc';
    ctx.lineWidth = 1;
    ctx.stroke();
    const rows = [55, 84.5, 114];
    const radii = [2.1, 5, 6.7];
    ctx.font = `${FS}px ${FAMILY}`;
    ctx.textBaseline = 'alphabetic';
    ctx.textAlign = 'left';
    ruweLabels.forEach((lab, i) => {
      ctx.fillStyle = '#0000ff';
      ctx.beginPath();
      ctx.arc(415, rows[i], radii[i], 0, Math.PI * 2);
      ctx.fill();
      ctx.fillStyle = '#000';
      ctx.fillText(lab, 451.7, rows[i] + 6.5);
    });
    ctx.translate(28, 237);
    ctx.rotate(-Math.PI / 2);
    ctx.font = `italic ${FS}px ${FAMILY}`;
    const wM = ctx.measureText('M').width;
    ctx.font = `italic ${FS * 0.7}px ${FAMILY}`;
    const wG = ctx.measureText('G').width;
    const x0 = -(wM + wG) / 2;
    ctx.fillStyle = '#000';
    ctx.font = `italic ${FS}px ${FAMILY}`;
    ctx.fillText('M', x0, 0);
    ctx.font = `italic ${FS * 0.7}px ${FAMILY}`;
    ctx.fillText('G', x0 + wM, 2.5);
    ctx.setTransform(1, 0, 0, 1, 0, 0);
    const pieces: [string, boolean, number][] = [['(', false, 0], ['BP', true, 0], ['\u2212', false, 4.3], ['RP', true, 4.3], [')', false, 0]];
    let total = 0;
    const widths = pieces.map(([t, it, gap]) => {
      ctx.font = `${it ? 'italic ' : ''}${FS}px ${FAMILY}`;
      const w = ctx.measureText(t).width;
      total += w + gap;
      return w;
    });
    let x = (a.left + a.right) / 2 - total / 2;
    pieces.forEach(([t, it, gap], i) => {
      ctx.font = `${it ? 'italic ' : ''}${FS}px ${FAMILY}`;
      x += gap;
      ctx.fillText(t, x, 485);
      x += widths[i];
    });
    ctx.restore();
  },
};

const rightDecor = {
  id: 'rightDecor',
  afterDatasetsDraw(chart: any) {
    const { ctx, chartArea: a } = chart;
    const ys = chart.scales.y;
    ctx.save();
    ctx.strokeStyle = '#000';
    ctx.lineWidth = 0.8;
    for (let e = -5; e <= 1; e++) {
      for (let k = 2; k <= 9; k++) {
        const v = k * Math.pow(10, e);
        if (v < ys.min || v > ys.max) continue;
        const py = Math.round(ys.getPixelForValue(v)) + 0.5;
        ctx.beginPath();
        ctx.moveTo(a.left - 2.8, py);
        ctx.lineTo(a.left, py);
        ctx.stroke();
      }
    }
    ctx.restore();
  },
  afterDraw(chart: any) {
    const { ctx, chartArea: a } = chart;
    ctx.save();
    ctx.fillStyle = '#000';
    ctx.font = `${FS}px ${FAMILY}`;
    ctx.textAlign = 'center';
    ctx.textBaseline = 'alphabetic';
    ctx.fillText('Period (d)', (a.left + a.right) / 2, 490);
    ctx.translate(46, (a.top + a.bottom) / 2);
    ctx.rotate(-Math.PI / 2);
    ctx.fillText('\u0394LS', 0, 0);
    ctx.restore();
  },
};

function LeftPanel() {
  const ref = useRef<HTMLCanvasElement>(null);
  useEffect(() => {
    if (!ref.current) return;
    const chart = new Chart(ref.current, {
      type: 'scatter',
      data: {
        datasets: [
          { data: toXY(fieldStars), order: 4, pointRadius: 1.3, pointBackgroundColor: '#d3d3d3', pointBorderWidth: 0 },
          { data: toXY(ruweLow), order: 3, pointRadius: 3, pointBackgroundColor: '#0000ff', pointBorderWidth: 0 },
          { data: toXY(ruweMid), order: 2, pointRadius: 4.9, pointBackgroundColor: '#0000ff', pointBorderWidth: 0 },
          { data: toXY(ruweHigh), order: 1, pointRadius: 6.8, pointBackgroundColor: '#0000ff', pointBorderWidth: 0 },
        ],
      } as any,
      options: {
        animation: false,
        responsive: false,
        events: [],
        layout: { autoPadding: false, padding: { top: 27, right: 23.3, left: 0, bottom: 0 } },
        plugins: { legend: { display: false }, tooltip: { enabled: false } },
        scales: {
          x: {
            type: 'linear', bounds: 'data', min: 1.699, max: 3.798,
            afterBuildTicks: (s: any) => { s.ticks = colourTicks.map((v) => ({ value: v })); },
            afterFit: (s: any) => { s.height = 51; s.paddingLeft = 0; s.paddingRight = 0; },
            ticks: { callback: (v: any) => Number(v).toFixed(2), autoSkip: false, maxRotation: 0, padding: 4, font: tickFont, color: '#000' },
            grid: gridOpts, border: { display: false },
          },
          y: {
            type: 'linear', bounds: 'data', min: 6, max: 14, reverse: true,
            afterBuildTicks: (s: any) => { s.ticks = magTicks.map((v) => ({ value: v })); },
            afterFit: (s: any) => { s.width = 68; s.paddingTop = 0; s.paddingBottom = 0; },
            ticks: { callback: (v: any) => String(v), autoSkip: false, padding: 3, font: tickFont, color: '#000' },
            grid: gridOpts, border: { display: false },
          },
        },
      } as any,
      plugins: [framePlugin, leftDecor],
    });
    return () => chart.destroy();
  }, []);
  return <canvas ref={ref} width={650} height={494} style={{ position: 'absolute', left: 0, top: 0, width: 650, height: 494, display: 'block' }} />;
}

function RightPanel() {
  const ref = useRef<HTMLCanvasElement>(null);
  useEffect(() => {
    if (!ref.current) return;
    const chart = new Chart(ref.current, {
      type: 'scatter',
      data: {
        datasets: [
          { data: toXY(allSources), order: 2, pointRadius: 1.7, pointBackgroundColor: '#ffa500', pointBorderWidth: 0 },
          { data: toXY(flaggedSources), order: 1, pointStyle: 'crossRot', pointRadius: 4.2, pointBorderColor: '#ff0000', pointBorderWidth: 1.8, pointBackgroundColor: '#ff0000' },
        ],
      } as any,
      options: {
        animation: false,
        responsive: false,
        events: [],
        layout: { autoPadding: false, padding: { top: 10, right: 1.5, left: 0, bottom: 0 } },
        plugins: { legend: { display: false }, tooltip: { enabled: false } },
        scales: {
          x: {
            type: 'linear', bounds: 'data', min: -0.366, max: 10.49,
            afterBuildTicks: (s: any) => { s.ticks = periodTicks.map((v) => ({ value: v })); },
            afterFit: (s: any) => { s.height = 53.3; s.paddingLeft = 0; s.paddingRight = 0; },
            ticks: { callback: (v: any) => String(v), autoSkip: false, maxRotation: 0, padding: 4, font: tickFont, color: '#000' },
            grid: gridOpts, border: { display: false },
          },
          y: {
            type: 'logarithmic', bounds: 'data', min: 1.02e-5, max: 37,
            afterBuildTicks: (s: any) => { s.ticks = lsDecades.map((v) => ({ value: v })); },
            afterFit: (s: any) => { s.width = 113.3; s.paddingTop = 0; s.paddingBottom = 0; },
            ticks: { callback: (v: any) => decadeLabel(Number(v)), autoSkip: false, padding: 3, font: tickFont, color: '#000' },
            grid: gridOpts, border: { display: false },
          },
        },
      } as any,
      plugins: [framePlugin, rightDecor],
    });
    return () => chart.destroy();
  }, []);
  return <canvas ref={ref} width={660} height={494} style={{ position: 'absolute', left: 650, top: 0, width: 660, height: 494, display: 'block' }} />;
}

export default function App() {
  return (
    <div style={{ position: 'fixed', left: 0, top: 0, width: 1302, height: 494, overflow: 'hidden', background: '#fff' }}>
      <LeftPanel />
      <RightPanel />
    </div>
  );
}
